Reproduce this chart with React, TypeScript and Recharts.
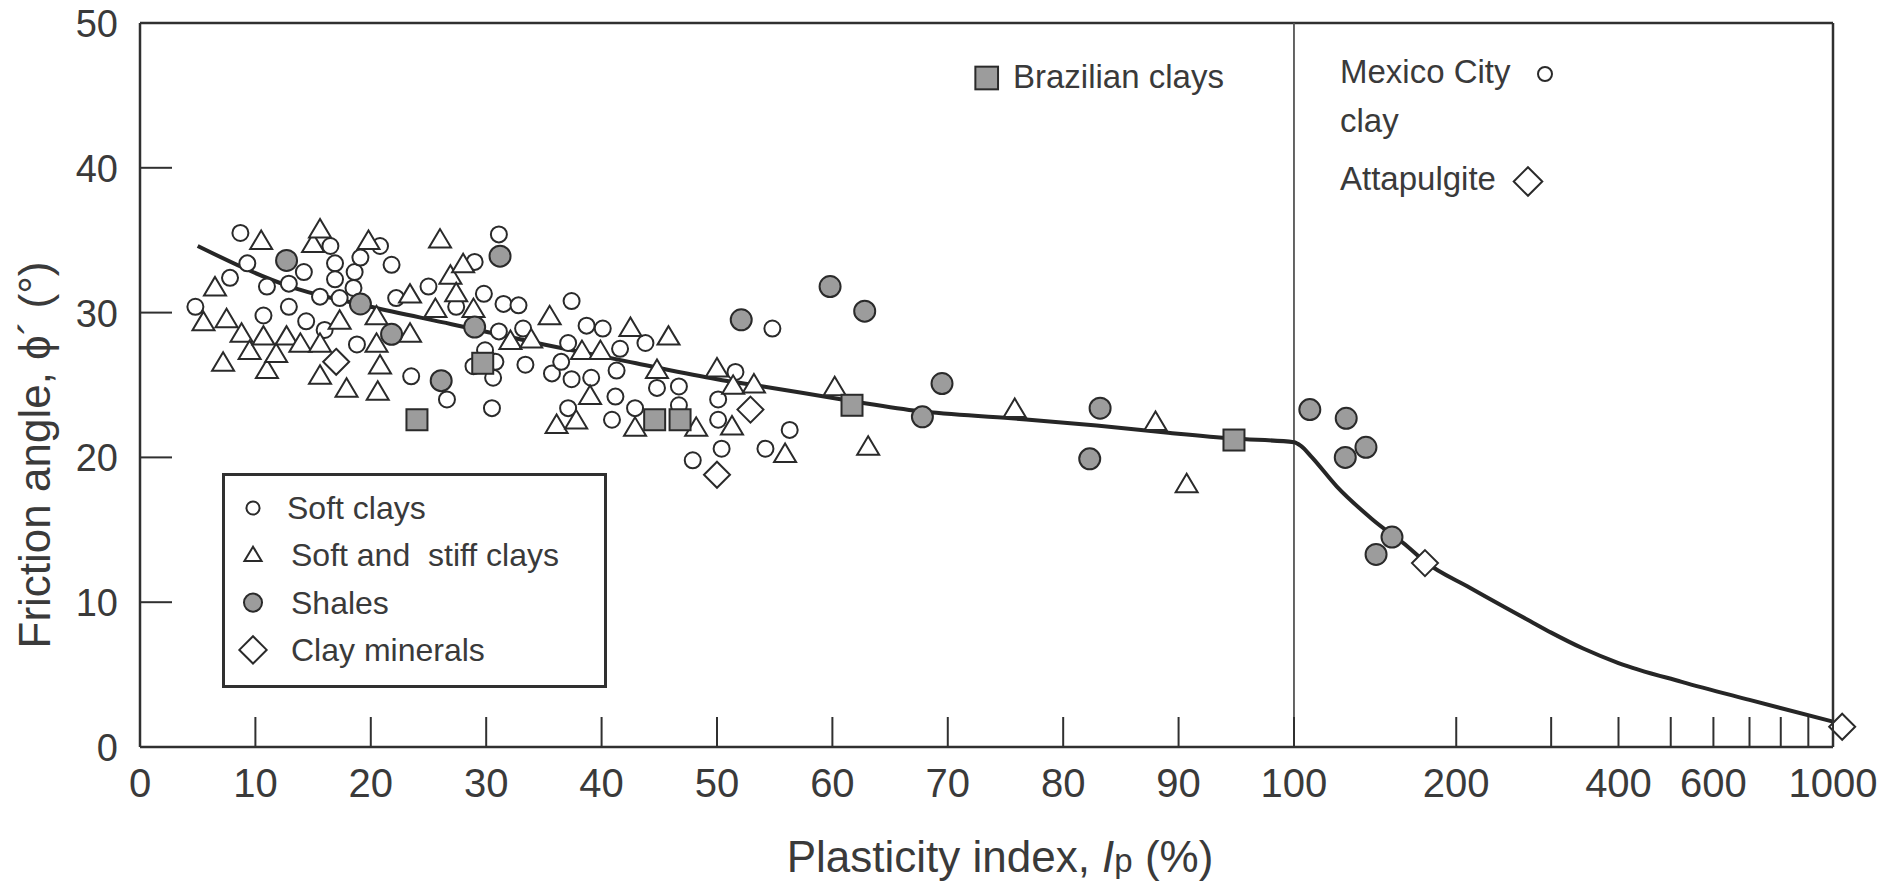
import {
  ComposedChart,
  Line,
  Scatter,
  XAxis,
  YAxis,
  ReferenceLine,
  Legend,
} from "recharts";

// x axis is linear from 0 to 100, then one log decade from 100 to 1000
const LOG_SPAN = 46.71;
const U_MAX = 148.5;
const toU = (ip: number) =>
  ip <= 100 ? ip : 100 + LOG_SPAN * Math.log10(ip / 100);
const fromU = (u: number) =>
  u <= 100 ? u : 100 * Math.pow(10, (u - 100) / LOG_SPAN);

const xLinearTicks = [0, 10, 20, 30, 40, 50, 60, 70, 80, 90, 100];
const xLogTicks = [200, 300, 400, 500, 600, 700, 800, 900, 1000];
const xLabeledTicks = [0, 10, 20, 30, 40, 50, 60, 70, 80, 90, 100, 200, 400, 600, 1000];
const yTicks = [0, 10, 20, 30, 40, 50];

// [Ip (%), friction angle (deg)]
const softClays: [number, number][] = [
  [4.8, 30.4], [7.8, 32.4], [8.7, 35.5], [9.3, 33.4], [10.7, 29.8], [11.0, 31.8],
  [12.9, 32.0], [12.9, 30.4], [14.2, 32.8], [14.4, 29.4], [15.6, 31.1], [16.0, 28.8],
  [16.5, 34.6], [16.9, 33.4], [16.9, 32.3], [17.3, 31.0], [18.5, 31.7], [18.6, 32.8],
  [18.8, 27.8], [19.1, 33.8], [20.8, 34.6], [21.8, 33.3], [22.2, 31.0], [23.5, 25.6],
  [25.0, 31.8], [26.6, 24.0], [27.4, 30.4], [28.9, 26.3], [29.0, 33.5], [29.8, 31.3],
  [29.9, 27.4], [30.5, 23.4], [30.6, 25.5], [30.8, 26.6], [31.1, 35.4], [31.1, 28.7],
  [31.5, 30.6], [32.8, 30.5], [33.2, 28.9], [33.4, 26.4], [35.7, 25.8], [36.5, 26.6],
  [37.1, 27.9], [37.1, 23.4], [37.4, 30.8], [37.4, 25.4], [38.7, 29.1], [39.1, 25.5],
  [40.1, 28.9], [40.9, 22.6], [41.2, 24.2], [41.3, 26.0], [41.6, 27.5], [42.9, 23.4],
  [43.8, 27.9], [44.8, 24.8], [46.7, 24.9], [46.7, 23.6], [47.9, 19.8], [50.1, 24.0],
  [50.1, 22.6], [50.4, 20.6], [51.6, 25.9], [54.2, 20.6], [54.8, 28.9], [56.3, 21.9],
];

const softStiffClays: [number, number][] = [
  [5.5, 29.3], [6.5, 31.7], [7.2, 26.5], [7.5, 29.5], [8.8, 28.5], [9.5, 27.3],
  [10.5, 34.9], [10.7, 28.3], [11.0, 26.0], [11.8, 27.1], [12.7, 28.3], [13.9, 27.8],
  [15.0, 34.7], [15.6, 35.7], [15.6, 27.8], [15.6, 25.6], [17.3, 29.4], [17.9, 24.7],
  [19.8, 34.9], [20.5, 29.7], [20.5, 27.8], [20.6, 24.5], [20.8, 26.3], [23.4, 31.2],
  [23.4, 28.5], [25.6, 30.2], [26.0, 35.0], [26.9, 32.5], [27.4, 31.3], [28.0, 33.3],
  [28.9, 30.2], [32.1, 28.0], [33.9, 28.1], [35.5, 29.7], [36.1, 22.2], [37.8, 22.5],
  [38.3, 27.3], [39.0, 24.2], [39.9, 27.3], [42.5, 28.9], [42.9, 22.0], [44.8, 26.0],
  [45.8, 28.3], [48.2, 22.0], [50.0, 26.1], [51.3, 22.1], [51.4, 24.9], [53.2, 25.0],
  [55.9, 20.2], [60.2, 24.8], [63.1, 20.7], [75.8, 23.3], [88.0, 22.4], [90.7, 18.1],
];

const shales: [number, number][] = [
  [12.7, 33.6], [19.1, 30.6], [21.8, 28.5], [26.1, 25.3], [29.0, 29.0], [31.2, 33.9],
  [52.1, 29.5], [59.8, 31.8], [62.8, 30.1], [67.8, 22.8], [69.5, 25.1], [82.3, 19.9],
  [83.2, 23.4], [107, 23.3], [125, 22.7], [124.5, 20.0], [136, 20.7], [142, 13.3],
  [152, 14.5],
];

const clayMinerals: [number, number][] = [
  [17.0, 26.6], [50.0, 18.8], [52.9, 23.3], [175, 12.7], [1040, 1.4],
];

const brazilianClays: [number, number][] = [
  [24.0, 22.6], [29.7, 26.5], [44.6, 22.6], [46.8, 22.6], [61.7, 23.6], [94.8, 21.2],
];

const trendLine: [number, number][] = [
  [5, 34.6], [13, 31.8], [20, 30.4], [27, 29.2], [35, 27.8], [43, 26.5], [50, 25.4],
  [54, 24.9], [61.6, 23.9], [67.5, 23.2], [75.5, 22.7], [82.9, 22.2], [89.1, 21.7],
  [94.7, 21.3], [100, 21.05], [103, 20.8], [108, 20.0], [120, 18.0], [140, 15.7],
  [163, 13.8], [175, 12.8], [212, 11.0], [274, 8.7], [300, 7.9], [344, 6.8],
  [400, 5.8], [524, 4.5], [700, 3.25], [1000, 1.75],
];

const legendOrder = ["Soft clays", "Soft and\u00a0 stiff clays", "Shales", "Clay minerals"];

const toPoints = (rows: [number, number][]) =>
  rows.map(([ip, phi]) => ({ ip, u: toU(ip), phi }));

const W = 1900;
const H = 890;
const LEFT = 140;
const TOP = 23;
const BOTTOM = 143;
const PLOT_W = (1693 / toU(1000)) * U_MAX;
const FONT = "'Liberation Sans', Arial, sans-serif";
const AXIS = "#303030";
const TEXT = "#3a3a3a";
const INK = "#2a2a2a";
const GREY = "#9c9c9c";

type Kind = "circle" | "triangle" | "shale" | "square" | "diamond";

function Marker({ kind, cx, cy, s = 1 }: { kind: Kind; cx: number; cy: number; s?: number }) {
  if (cx == null || cy == null) return null;
  if (kind === "circle")
    return <circle cx={cx} cy={cy} r={8 * s} fill="#fff" stroke={INK} strokeWidth={2} />;
  if (kind === "shale")
    return <circle cx={cx} cy={cy} r={10.5 * s} fill={GREY} stroke={INK} strokeWidth={2} />;
  if (kind === "triangle") {
    const w = 22 * s;
    const h = 18.5 * s;
    return (
      <polygon
        points={`${cx},${cy - h * 0.6} ${cx - w / 2},${cy + h * 0.4} ${cx + w / 2},${cy + h * 0.4}`}
        fill="#fff"
        stroke={INK}
        strokeWidth={2}
      />
    );
  }
  if (kind === "square") {
    const a = 21 * s;
    return <rect x={cx - a / 2} y={cy - a / 2} width={a} height={a} fill={GREY} stroke={INK} strokeWidth={2} />;
  }
  const d = 13 * s;
  return (
    <polygon
      points={`${cx},${cy - d} ${cx + d},${cy} ${cx},${cy + d} ${cx - d},${cy}`}
      fill="#fff"
      stroke={INK}
      strokeWidth={2}
    />
  );
}

const shape = (kind: Kind) => (p: any) => <Marker kind={kind} cx={p.cx} cy={p.cy} />;

const legendKinds: Record<string, { kind: Kind; s: number }> = {
  "Soft clays": { kind: "circle", s: 0.82 },
  "Soft and\u00a0 stiff clays": { kind: "triangle", s: 0.78 },
  Shales: { kind: "shale", s: 0.86 },
  "Clay minerals": { kind: "diamond", s: 1.05 },
};

function XTick({ x, y, payload }: any) {
  const ip = Math.round(fromU(payload.value));
  return (
    <g>
      <line x1={x} x2={x} y1={y} y2={y - 30} stroke={AXIS} strokeWidth={2} />
      {xLabeledTicks.includes(ip) && (
        <text x={x} y={y + 50} textAnchor="middle" fontSize={40} fill={TEXT} fontFamily={FONT}>
          {ip}
        </text>
      )}
    </g>
  );
}

function YTick({ x, y, payload }: any) {
  return (
    <g>
      <line x1={x} x2={x + 32} y1={y} y2={y} stroke={AXIS} strokeWidth={2} />
      <text x={x - 22} y={y + 14} textAnchor="end" fontSize={38} fill={TEXT} fontFamily={FONT}>
        {payload.value}
      </text>
    </g>
  );
}

function LegendBox({ payload }: any) {
  const names = (payload || []).map((e: any) => e.value);
  const rows = legendOrder.filter((n) => names.includes(n));
  return (
    <svg width={385} height={215} style={{ display: "block" }}>
      <rect x={1.5} y={1.5} width={382} height={212} fill="#fff" stroke={AXIS} strokeWidth={3} />
      {rows.map((name, i) => {
        const cy = 35 + i * 47.3;
        const k = legendKinds[name];
        return (
          <g key={name}>
            <Marker kind={k.kind} cx={31} cy={cy} s={k.s} />
            <text x={i === 0 ? 65 : 69} y={cy + 11} fontSize={32} fill={TEXT} fontFamily={FONT}>
              {name}
            </text>
          </g>
        );
      })}
    </svg>
  );
}

export default function App() {
  const u1000 = toU(1000);
  return (
    // negative margin cancels the body margin so chart pixels equal page pixels
    <div style={{ width: W, height: H, margin: -8, fontFamily: FONT }}>
      <ComposedChart
        width={W}
        height={H}
        margin={{ top: TOP, right: W - LEFT - PLOT_W, left: 0, bottom: 0 }}
      >
        <XAxis
          type="number"
          dataKey="u"
          domain={[0, U_MAX]}
          ticks={[...xLinearTicks, ...xLogTicks].map(toU)}
          interval={0}
          height={BOTTOM}
          axisLine={false}
          tickLine={false}
          tickSize={0}
          tickMargin={0}
          tick={(p: any) => <XTick {...p} />}
        />
        <YAxis
          type="number"
          dataKey="phi"
          domain={[0, 50]}
          ticks={yTicks}
          interval={0}
          width={LEFT}
          axisLine={{ stroke: AXIS, strokeWidth: 2.5 }}
          tickLine={false}
          tickSize={0}
          tickMargin={0}
          tick={(p: any) => <YTick {...p} />}
        />
        <ReferenceLine segment={[{ x: 0, y: 0 }, { x: u1000, y: 0 }]} stroke={AXIS} strokeWidth={2.5} />
        <ReferenceLine segment={[{ x: 0, y: 50 }, { x: u1000, y: 50 }]} stroke={AXIS} strokeWidth={2.5} />
        <ReferenceLine segment={[{ x: u1000, y: 0 }, { x: u1000, y: 50 }]} stroke={AXIS} strokeWidth={2.5} />
        <ReferenceLine x={100} stroke="#555" strokeWidth={1.8} />

        <Line
          data={toPoints(trendLine)}
          dataKey="phi"
          type="monotone"
          stroke="#262626"
          strokeWidth={4}
          dot={false}
          activeDot={false}
          legendType="none"
          isAnimationActive={false}
        />
        <Scatter name="Soft clays" data={toPoints(softClays)} shape={shape("circle")} isAnimationActive={false} />
        <Scatter
          name={"Soft and\u00a0 stiff clays"}
          data={toPoints(softStiffClays)}
          shape={shape("triangle")}
          isAnimationActive={false}
        />
        <Scatter name="Shales" data={toPoints(shales)} shape={shape("shale")} isAnimationActive={false} />
        <Scatter name="Clay minerals" data={toPoints(clayMinerals)} shape={shape("diamond")} isAnimationActive={false} />
        <Scatter
          name="Brazilian clays"
          data={toPoints(brazilianClays)}
          shape={shape("square")}
          legendType="none"
          isAnimationActive={false}
        />

        <Legend
          layout="vertical"
          align="center"
          verticalAlign="middle"
          wrapperStyle={{ left: 222, top: 473, width: 385, height: 215 }}
          content={(p: any) => <LegendBox {...p} />}
        />

        {/* annotations */}
        <Marker kind="square" cx={986.7} cy={78} s={1.08} />
        <text x={1013} y={88} fontSize={33} fill={TEXT} fontFamily={FONT}>
          Brazilian clays
        </text>
        <text x={1340} y={83} fontSize={33} fill={TEXT} fontFamily={FONT}>
          Mexico City
        </text>
        <circle cx={1545} cy={74} r={7} fill="#fff" stroke={INK} strokeWidth={2} />
        <text x={1340} y={132} fontSize={33} fill={TEXT} fontFamily={FONT}>
          clay
        </text>
        <text x={1340} y={190} fontSize={33} fill={TEXT} fontFamily={FONT}>
          Attapulgite
        </text>
        <Marker kind="diamond" cx={1528} cy={181.5} s={1.1} />

        {/* axis titles */}
        <text x={1000} y={872} textAnchor="middle" fontSize={44} fill={TEXT} fontFamily={FONT}>
          Plasticity index,{" "}
          <tspan fontStyle="italic">I</tspan>
          <tspan fontSize={33}>p</tspan> (%)
        </text>
        <text
          x={50}
          y={455}
          transform="rotate(-90, 50, 455)"
          textAnchor="middle"
          fontSize={44}
          fill={TEXT}
          fontFamily={FONT}
        >
          Friction angle, ϕ´ (°)
        </text>
      </ComposedChart>
    </div>
  );
}
